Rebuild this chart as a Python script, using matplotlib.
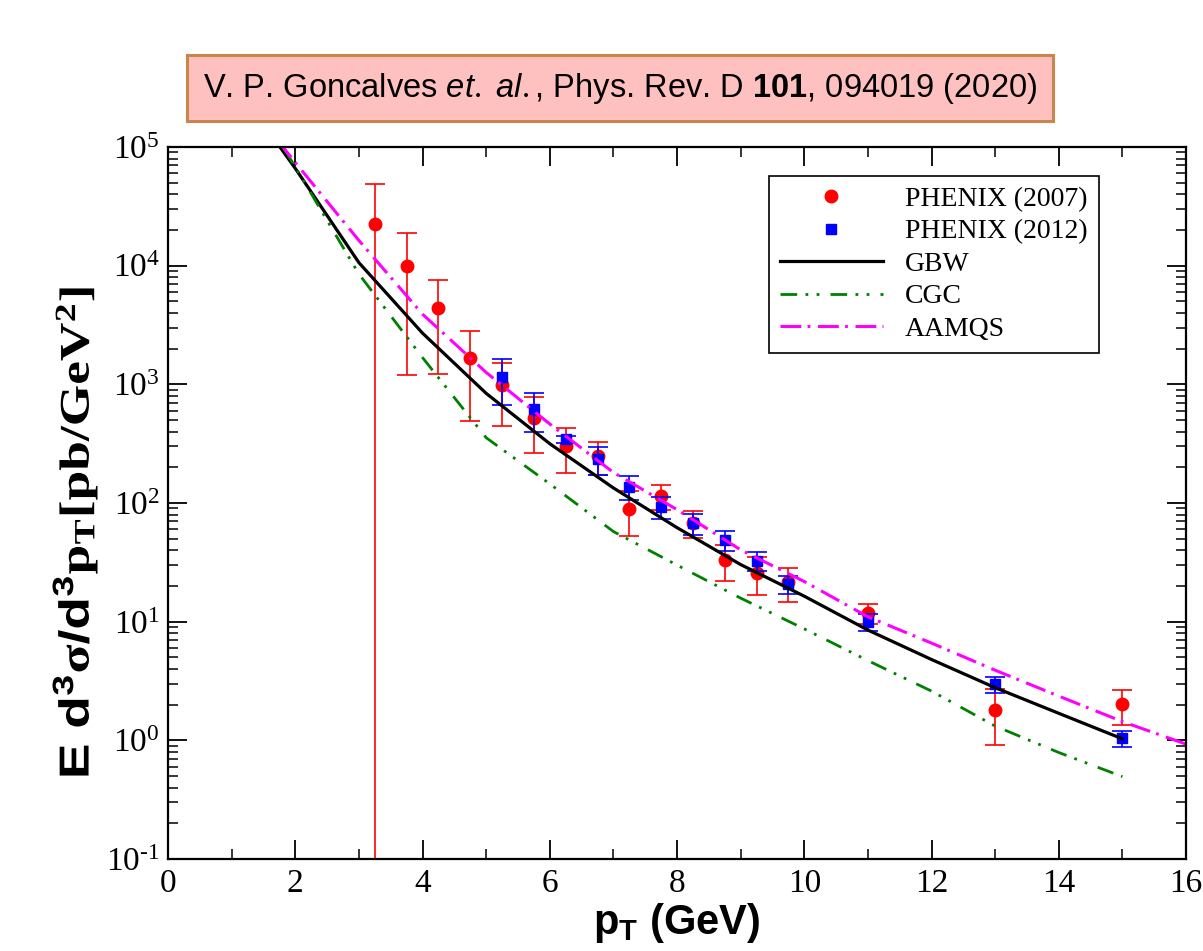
import numpy as np
import matplotlib
matplotlib.use("Agg")
import matplotlib.pyplot as plt
from matplotlib.patches import Rectangle, PathPatch
from matplotlib.textpath import TextPath
from matplotlib.font_manager import FontProperties
from matplotlib.transforms import Affine2D, IdentityTransform
from matplotlib.ticker import (LogLocator, MultipleLocator, NullFormatter,
                               FixedLocator, FuncFormatter)

plt.rcParams["font.family"] = "Liberation Serif"
plt.rcParams["mathtext.fontset"] = "custom"
plt.rcParams["mathtext.rm"] = "Liberation Serif"
plt.rcParams["mathtext.it"] = "Liberation Sans:italic"
plt.rcParams["mathtext.bf"] = "Liberation Serif:bold"
plt.rcParams["mathtext.sf"] = "Liberation Sans:bold"
plt.rcParams["axes.unicode_minus"] = False
plt.rcParams["lines.scale_dashes"] = False

# PHENIX (2007)
pt07 = [3.25, 3.75, 4.25, 4.75, 5.25, 5.75, 6.25, 6.75, 7.25, 7.75, 8.25, 8.75, 9.25, 9.75, 11, 13, 15]
y07 = [2.24e4, 1.0e4, 4.43e3, 1.66e3, 988, 525, 305, 249, 89.7, 115, 68.5, 33.2, 25.9, 21.5, 11.9, 1.81, 2.02]
e07 = [2.61e4, 8.8e3, 3.2e3, 1.17e3, 540, 260, 127, 78, 37, 28, 18, 11, 9, 6.8, 2.3, 0.9, 0.66]

# PHENIX (2012)
pt12 = [5.25, 5.75, 6.25, 6.75, 7.25, 7.75, 8.25, 8.75, 9.25, 9.75, 11, 13, 15]
y12 = [1150, 621, 345, 234, 137, 93, 67.6, 48.9, 32.5, 20.7, 9.9, 2.98, 1.04]
e12 = [480, 222, 25, 63, 31, 19, 14, 9.4, 6, 3.7, 1.6, 0.46, 0.16]

# model curves
pt_th = [1, 2, 3, 4, 5, 6, 7, 8, 9, 10, 11, 12, 13, 14, 15]
gbw = [3.7e5, 6.6e4, 1.06e4, 2.7e3, 840, 316, 134, 62, 30.3, 16.4, 8.5, 4.8, 2.78, 1.69, 1.03]
cgc = [5.0e5, 6.8e4, 8.5e3, 1.68e3, 355, 145, 57.5, 30, 15.8, 8.7, 4.7, 2.6, 1.32, 0.79, 0.495]
pt_aamqs = [1, 2, 3, 4, 5, 6, 7, 8, 9, 10, 11, 12, 13, 14, 15, 16]
aamqs = [3.5e5, 7.4e4, 1.63e4, 3.9e3, 1.26e3, 463, 181, 88, 40.3, 21.8, 11.0, 6.6, 3.9, 2.36, 1.44, 0.93]

y_decades = [-1, 0, 1, 2, 3, 4, 5]

fig = plt.figure(figsize=(12.03, 9.51), dpi=100)
ax = fig.add_axes([0.1397, 0.0967, 0.8462, 0.7487])

ax.errorbar(pt07, y07, yerr=e07, fmt="none", ecolor="red", elinewidth=1.2,
            capsize=7.5, capthick=1.2)
ax.plot(pt07, y07, "o", color="red", markersize=9, label="PHENIX (2007)")
ax.errorbar(pt12, y12, yerr=e12, fmt="none", ecolor="blue", elinewidth=1.2,
            capsize=7.5, capthick=1.2)
ax.plot(pt12, y12, "s", color="blue", markersize=7.5, label="PHENIX (2012)")

ax.plot(pt_th, gbw, color="black", lw=2.3, label="GBW")
ax.plot(pt_th, cgc, color="green", lw=2.0, dashes=(12, 6, 2, 6, 2, 8), label="CGC")
ax.plot(pt_aamqs, aamqs, color="magenta", lw=2.2, dashes=(15, 4.5, 2, 5.5), label="AAMQS")

ax.set_yscale("log")
ax.set_xlim(0, 16)
ax.set_ylim(1e-1, 1e5)
ax.xaxis.set_major_locator(MultipleLocator(2))
ax.xaxis.set_minor_locator(MultipleLocator(1))


def dec_label(v, pos):
    e = int(round(np.log10(v)))
    s = r"\text{-}%d" % -e if e < 0 else "%d" % e
    return r"$\mathdefault{10^{%s}}$" % s


ax.yaxis.set_major_locator(FixedLocator([10.0 ** d for d in y_decades]))
ax.yaxis.set_major_formatter(FuncFormatter(dec_label))
ax.yaxis.set_minor_locator(LogLocator(base=10, subs=np.arange(2, 10), numticks=20))
ax.yaxis.set_minor_formatter(NullFormatter())
ax.tick_params(which="both", direction="in", top=True, right=True, labelsize=24)
ax.tick_params(which="major", length=14, width=1.3)
ax.tick_params(which="minor", length=7, width=1.1)
ax.tick_params(axis="x", pad=7)
ax.tick_params(axis="y", pad=6)
for s in ax.spines.values():
    s.set_linewidth(1.6)

ax.set_xlabel(r"$\mathsf{p_T\ (GeV)}$", fontsize=30, labelpad=1)

# y label: drawn as a path so it can be stretched along its length
ylab = r"$\mathsf{E\ d^3}\mathbf{\sigma}\mathsf{/d^3}\mathbf{p_T[pb/GeV^2]}$"
tp = TextPath((0, 0), ylab, size=42, prop=FontProperties(family="Liberation Sans", weight="bold"))
ext = tp.get_extents()
tr = (Affine2D()
      .translate(-(ext.x0 + ext.x1) / 2, -(ext.y0 + ext.y1) / 2)
      .scale(1.27, 1.0)
      .rotate_deg(90)
      .translate(75, 951 - 532))
fig.patches.append(PathPatch(tp, transform=tr + IdentityTransform(),
                             facecolor="black", edgecolor="none", lw=0))

leg = ax.legend(loc="upper left", bbox_to_anchor=(0.59, 0.96), fontsize=20,
                frameon=True, fancybox=False, framealpha=1, edgecolor="black",
                handlelength=3.7, handletextpad=0.8, labelspacing=0.25,
                borderpad=0.4, borderaxespad=0)
leg.get_frame().set_linewidth(1.2)

# reference box on top
fig.patches.append(Rectangle((187 / 1203, 1 - 121 / 951), 866 / 1203, 66 / 951,
                             transform=fig.transFigure, facecolor="#ffc0c0",
                             edgecolor="#c8864a", linewidth=2.2))
fig.text(620 / 1203, 1 - 89 / 951,
         r"V. P. Goncalves $\mathit{et.\ al.}$, Phys. Rev. D $\mathsf{101}$, 094019 (2020)",
         ha="center", va="center", fontsize=23.5, family="Liberation Sans")

fig.savefig("out.png", dpi=100)
